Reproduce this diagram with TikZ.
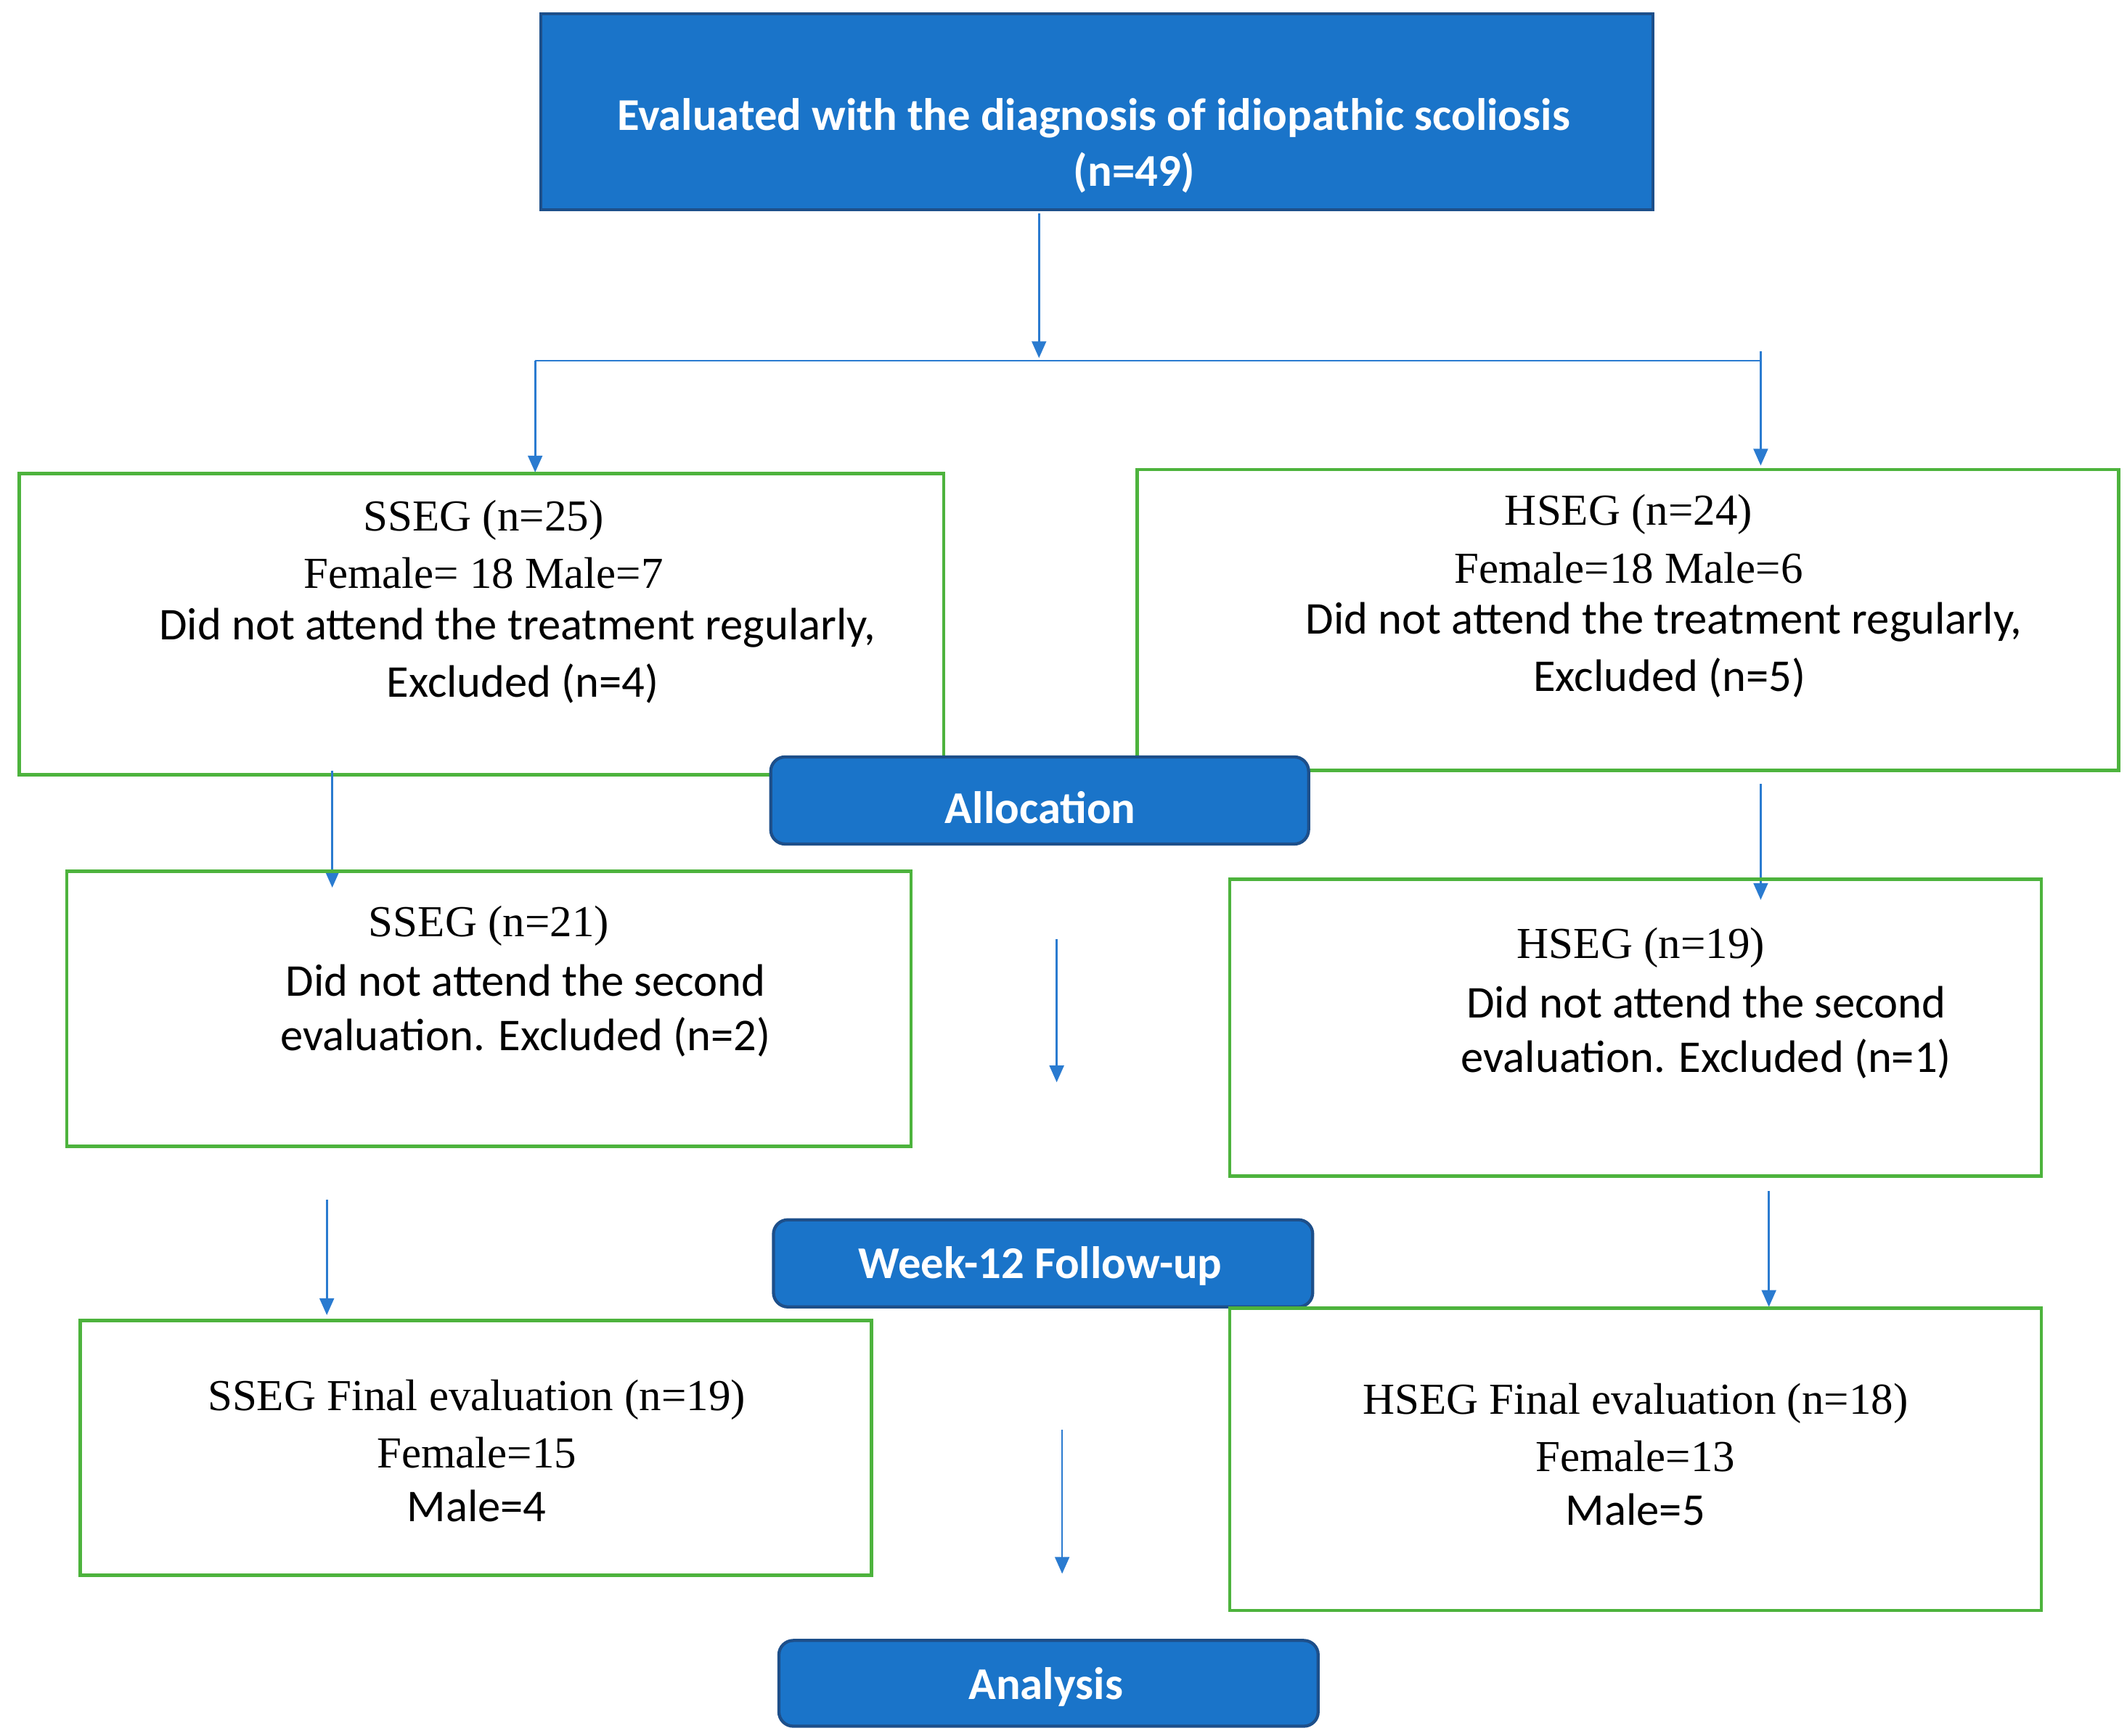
\documentclass[tikz,border=0pt]{standalone}
\usepackage{fontspec}
\setmainfont{Liberation Serif}
\newfontfamily\calfont{Carlito}
\usetikzlibrary{arrows.meta}
\definecolor{bfill}{HTML}{1A74C9}
\definecolor{bdraw}{HTML}{1D4F8A}
\definecolor{gbox}{HTML}{4DB33D}
\definecolor{aline}{HTML}{2A7BD0}
\begin{document}
\begin{tikzpicture}[x=0.2mm,y=-0.2mm,
 gb/.style={draw=gbox,line width=1.4pt},
 bb/.style={draw=bdraw,fill=bfill,line width=1.3pt},
 tw/.style={text=white,font=\calfont\bfseries\fontsize{19}{22}\selectfont},
 ser/.style={font=\fontsize{18.5}{22}\selectfont},
 san/.style={font=\calfont\fontsize{19}{22}\selectfont},
 ar/.style={draw=aline,line width=0.8pt,-{Triangle[length=7pt,width=6pt]}},
 ln/.style={draw=aline,line width=0.8pt}]
\useasboundingbox (0,0) rectangle (1562,1275);
% top
\draw[bb] (397,10) rectangle (1214,154);
\node[tw] (t1) at (803,87) {Evaluated with the diagnosis of idiopathic scoliosis};
\node[tw] (t2) at (833,127) {(n=49)};
\coordinate (a0) at (763,157); \coordinate (a1) at (763,263);
\coordinate (hl) at (393,265); \coordinate (hr) at (1293,265); \coordinate (hr0) at (1293,258);
\coordinate (l1) at (393,347); \coordinate (r1) at (1293,342);
\draw[ar] (a0) -- (a1);
\draw[ln] (hl) -- (hr);
\draw[ar] (hl) -- (l1);
\draw[ar] (hr0) -- (r1);
% row 1
\draw[gb] (14,348) rectangle (693,569);
\node[ser] (s1) at (355,382) {SSEG (n=25)};
\node[ser] (s2) at (355,421) {Female= 18 Male=7};
\node[san] (s3) at (380,461) {Did not attend the treatment regularly,};
\node[san] (s4) at (384,502) {Excluded (n=4)};
\draw[gb] (835,345) rectangle (1556,566);
\node[ser] (h1) at (1196,378) {HSEG (n=24)};
\node[ser] (h2) at (1196,417) {Female=18 Male=6};
\node[san] (h3) at (1222,457) {Did not attend the treatment regularly,};
\node[san] (h4) at (1226,498) {Excluded (n=5)};
\draw[bb,rounded corners=6pt] (566,556) rectangle (961,620);
\node[tw] (alloc) at (764,593) {Allocation};
% arrows 2
\coordinate (b1) at (244,566); \coordinate (b2) at (244,652);
\coordinate (c1) at (1293,576); \coordinate (c2) at (1293,661);
\coordinate (d1) at (776,690); \coordinate (d2) at (776,795);
\draw[ar] (b1) -- (b2); \draw[ar] (c1) -- (c2); \draw[ar] (d1) -- (d2);
% row 2
\draw[gb] (49,640) rectangle (669,842);
\node[ser] (s5) at (359,680) {SSEG (n=21)};
\node[san] (s6) at (386,720) {Did not attend the second};
\node[san] (s7) at (386,762) {evaluation. Excluded (n=2)};
\draw[gb] (903,646) rectangle (1499,864);
\node[ser] (h5) at (1205,696) {HSEG (n=19)};
\node[san] (h6) at (1253,736) {Did not attend the second};
\node[san] (h7) at (1253,778) {evaluation. Excluded (n=1)};
\draw[bb,rounded corners=6pt] (568,896) rectangle (964,960);
\node[tw] (wk) at (764,930) {Week-12 Follow-up};
% arrows 3
\coordinate (e1) at (240,881); \coordinate (e2) at (240,966);
\coordinate (f1) at (1299,875); \coordinate (f2) at (1299,960);
\coordinate (g1) at (780,1050); \coordinate (g2) at (780,1156);
\draw[ar] (e1) -- (e2); \draw[ar] (f1) -- (f2); \draw[ar] (g1) -- (g2);
% row 3
\draw[gb] (59,970) rectangle (640,1157);
\node[ser] (s8) at (350,1028) {SSEG Final evaluation (n=19)};
\node[ser] (s9) at (350,1067) {Female=15};
\node[san] (s10) at (350,1106) {Male=4};
\draw[gb] (903,961) rectangle (1499,1183);
\node[ser] (h8) at (1201,1031) {HSEG Final evaluation (n=18)};
\node[ser] (h9) at (1201,1070) {Female=13};
\node[san] (h10) at (1201,1109) {Male=5};
\draw[bb,rounded corners=6pt] (572,1205) rectangle (968,1268);
\node[tw] (an) at (768,1239) {Analysis};
\end{tikzpicture}
\end{document}
